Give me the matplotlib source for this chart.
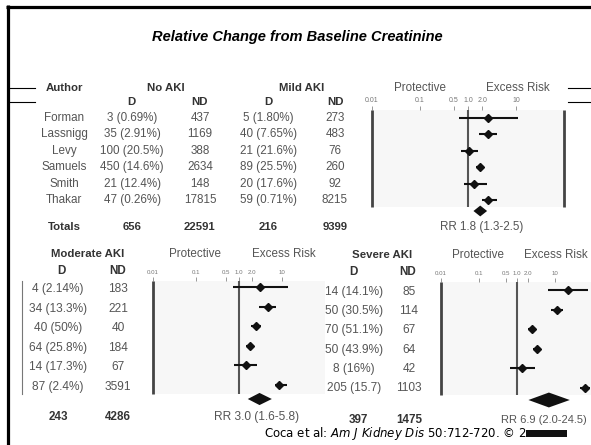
import numpy as np
import matplotlib.pyplot as plt
from matplotlib.patches import Polygon, Rectangle
from matplotlib.ticker import NullLocator

plt.rcParams['font.family'] = ['Liberation Sans', 'DejaVu Sans']
NARROW = ['Liberation Sans Narrow', 'Liberation Sans']

# ---- table data ----
authors = ['Forman', 'Lassnigg', 'Levy', 'Samuels', 'Smith', 'Thakar']
no_aki_d = ['3 (0.69%)', '35 (2.91%)', '100 (20.5%)', '450 (14.6%)', '21 (12.4%)', '47 (0.26%)']
no_aki_nd = ['437', '1169', '388', '2634', '148', '17815']
mild_d = ['5 (1.80%)', '40 (7.65%)', '21 (21.6%)', '89 (25.5%)', '20 (17.6%)', '59 (0.71%)']
mild_nd = ['273', '483', '76', '260', '92', '8215']
mod_d = ['4 (2.14%)', '34 (13.3%)', '40 (50%)', '64 (25.8%)', '14 (17.3%)', '87 (2.4%)']
mod_nd = ['183', '221', '40', '184', '67', '3591']
sev_d = ['14 (14.1%)', '50 (30.5%)', '70 (51.1%)', '50 (43.9%)', '8 (16%)', '205 (15.7)']
sev_nd = ['85', '114', '67', '64', '42', '1103']
totals_top = ['Totals', '656', '22591', '216', '9399']
totals_mod = ['243', '4286']
totals_sev = ['397', '1475']

# relative risk and 95% CI per study
mild_rr = [2.6, 2.6, 1.05, 1.8, 1.33, 2.6]
mild_lo = [0.65, 1.7, 0.72, 1.47, 0.83, 1.96]
mild_hi = [11.0, 4.0, 1.6, 2.15, 2.5, 4.0]
mod_rr = [3.1, 4.7, 2.5, 1.8, 1.45, 8.5]
mod_lo = [0.72, 2.9, 1.9, 1.45, 0.76, 6.9]
mod_hi = [13.8, 7.3, 3.25, 2.2, 2.6, 13.0]
sev_rr = [22.0, 11.3, 2.5, 3.4, 1.35, 61.0]
sev_lo = [6.5, 7.8, 1.95, 2.6, 0.65, 45.0]
sev_hi = [74.0, 16.0, 3.2, 4.3, 2.97, 83.0]

# pooled estimates (RR, low, high)
pooled_mild = (1.8, 1.3, 2.5)
pooled_mod = (3.0, 1.6, 5.8)
pooled_sev = (6.9, 2.0, 24.5)

tick_vals = [0.01, 0.1, 0.5, 1, 2, 10]
tick_labels = ['0.01', '0.1', '0.5', '1.0', '2.0', '10']

W, H = 591, 445
fig = plt.figure(figsize=(W / 100, H / 100), dpi=100)
bg = fig.add_axes([0, 0, 1, 1])
bg.set_xlim(0, W)
bg.set_ylim(H, 0)
bg.axis('off')

GRAY = '#555555'
DARK = '#333333'


def put(x, y, s, size=8.4, weight='normal', color=GRAY, family=None, style='normal'):
    kw = {}
    if family is not None:
        kw['family'] = family
    return bg.text(x, y, s, ha='center', va='center', fontsize=size,
                   fontweight=weight, color=color, fontstyle=style, **kw)


def rr_label(p):
    return 'RR {:.1f} ({:.1f}-{:.1f})'.format(*p)


def forest(left, top, px_dec, bottom, row0, row_h, box_bottom, rr, lo, hi,
           pooled, diamond_row, dh, right_line, lab_size):
    width = px_dec * 4
    ax = fig.add_axes([left / W, 1 - bottom / H, width / W, (bottom - top) / H])
    ax.set_xscale('log')
    ax.set_xlim(0.01, 100)
    ytop = (top - row0) / row_h
    ybot = (box_bottom - row0) / row_h
    ax.set_ylim((bottom - row0) / row_h, ytop)
    for s in ax.spines.values():
        s.set_visible(False)
    ax.patch.set_alpha(0)
    ax.xaxis.tick_top()
    ax.set_xticks(tick_vals)
    ax.set_xticklabels(tick_labels)
    ax.xaxis.set_minor_locator(NullLocator())
    ax.set_yticks([])
    ax.tick_params(axis='x', length=3, width=0.6, color='#888888', pad=1.5,
                   labelsize=lab_size, labelcolor='#777777')
    ax.fill_betweenx([ytop, ybot], 0.01, 100, color='#f7f7f7', zorder=0, lw=0)
    ax.plot([0.01, 0.01], [ytop, ybot], color='#444444', lw=2.0,
            solid_capstyle='butt', clip_on=False)
    if right_line:
        ax.plot([100, 100], [ytop, ybot], color='#444444', lw=2.0,
                solid_capstyle='butt', clip_on=False)
    ax.plot([1, 1], [ytop, ybot], color='#555555', lw=1.5, solid_capstyle='butt')
    rows = np.arange(len(rr))
    ax.hlines(rows, lo, hi, color='#111111', lw=1.5, clip_on=False)
    ax.plot(rr, rows, 'D', color='#111111', ms=4.2, clip_on=False)
    p, pl, ph = pooled
    ax.add_patch(Polygon([(pl, diamond_row), (p, diamond_row - dh),
                          (ph, diamond_row), (p, diamond_row + dh)],
                         closed=True, color='#111111', lw=0))
    return ax


# ---- frame ----
bg.plot([6, W], [6.5, 6.5], color='black', lw=2.3, solid_capstyle='butt')
bg.plot([7.5, 7.5], [5, H], color='black', lw=2.3, solid_capstyle='butt')
for yy in (88, 102):
    bg.plot([8, 35], [yy, yy], color='black', lw=0.8)
    bg.plot([568, W], [yy, yy], color='black', lw=0.8)

put(297, 37, 'Relative Change from Baseline Creatinine', size=10.5,
    weight='bold', style='italic', color='black')

# ---- top table ----
put(64, 88, 'Author', weight='bold', color=DARK, size=8.2)
put(166, 88, 'No AKI', weight='bold', color=DARK, size=8.2)
put(302, 88, 'Mild AKI', weight='bold', color=DARK, size=8.2)
put(420, 88, 'Protective', size=8.4)
put(518, 88, 'Excess Risk', size=8.4)
for x, s in zip([131, 200, 268, 335], ['D', 'ND', 'D', 'ND']):
    put(x, 102, s, weight='bold', color=DARK, size=8.2)

top_rows = 118 + 16.4 * np.arange(len(authors))
for i, y in enumerate(top_rows):
    put(64, y, authors[i])
    put(132, y, no_aki_d[i])
    put(200, y, no_aki_nd[i])
    put(268, y, mild_d[i])
    put(335, y, mild_nd[i])
for x, s in zip([64, 132, 200, 268, 335], totals_top):
    put(x, 227, s, weight='bold', color=DARK, size=8.2)
put(482, 227, rr_label(pooled_mild))

forest(372, 110, 48, 220, 118, 16.4, 207, mild_rr, mild_lo, mild_hi,
       pooled_mild, (211 - 118) / 16.4, 0.33, True, 5.0)

# ---- moderate AKI ----
put(88, 254, 'Moderate AKI', weight='bold', color=DARK, size=8.2, family=NARROW)
put(195, 254, 'Protective', size=8.4, family=NARROW)
put(284, 254, 'Excess Risk', size=8.4, family=NARROW)
put(61, 271, 'D', weight='bold', color=DARK, size=8.4, family=NARROW)
put(118, 271, 'ND', weight='bold', color=DARK, size=8.4, family=NARROW)
mod_rows = 289 + 19.6 * np.arange(len(mod_d))
for i, y in enumerate(mod_rows):
    put(58, y, mod_d[i], size=8.6, family=NARROW)
    put(118, y, mod_nd[i], size=8.6, family=NARROW)
put(58, 417, totals_mod[0], weight='bold', color=DARK, size=8.4, family=NARROW)
put(118, 417, totals_mod[1], weight='bold', color=DARK, size=8.4, family=NARROW)
put(257, 417, rr_label(pooled_mod), size=8.6, family=NARROW)
bg.plot([22, 22], [281, 394], color='#777777', lw=0.8)

forest(153, 281, 43, 410, 287, 19.6, 394, mod_rr, mod_lo, mod_hi,
       pooled_mod, (399 - 287) / 19.6, 0.31, False, 4.4)

# ---- severe AKI ----
put(382, 255, 'Severe AKI', weight='bold', color=DARK, size=8.2, family=NARROW)
put(478, 255, 'Protective', size=8.4, family=NARROW)
put(556, 255, 'Excess Risk', size=8.4, family=NARROW)
put(353, 272, 'D', weight='bold', color=DARK, size=8.4, family=NARROW)
put(408, 272, 'ND', weight='bold', color=DARK, size=8.4, family=NARROW)
sev_rows = 292 + 19.2 * np.arange(len(sev_d))
for i, y in enumerate(sev_rows):
    put(354, y, sev_d[i], size=8.6, family=NARROW)
    put(409, y, sev_nd[i], size=8.6, family=NARROW)
put(358, 420, totals_sev[0], weight='bold', color=DARK, size=8.4, family=NARROW)
put(409, 420, totals_sev[1], weight='bold', color=DARK, size=8.4, family=NARROW)
put(544, 420, rr_label(pooled_sev), size=8.0, family=NARROW)

forest(441, 282, 38, 412, 290, 19.6, 395, sev_rr, sev_lo, sev_hi,
       pooled_sev, (400 - 290) / 19.6, 0.38, False, 4.4)

# ---- citation ----
plt.rcParams['mathtext.fontset'] = 'dejavusans'
bg.text(264, 434, 'Coca et al: $\\mathit{Am\\ J\\ Kidney\\ Dis}$ 50:712-720. \u00a9 2',
        ha='left', va='center', fontsize=8.5, color='black', family='DejaVu Sans')
bg.add_patch(Rectangle((526, 430), 41, 7, color='#111111', lw=0))

fig.savefig('out.png', dpi=100)
